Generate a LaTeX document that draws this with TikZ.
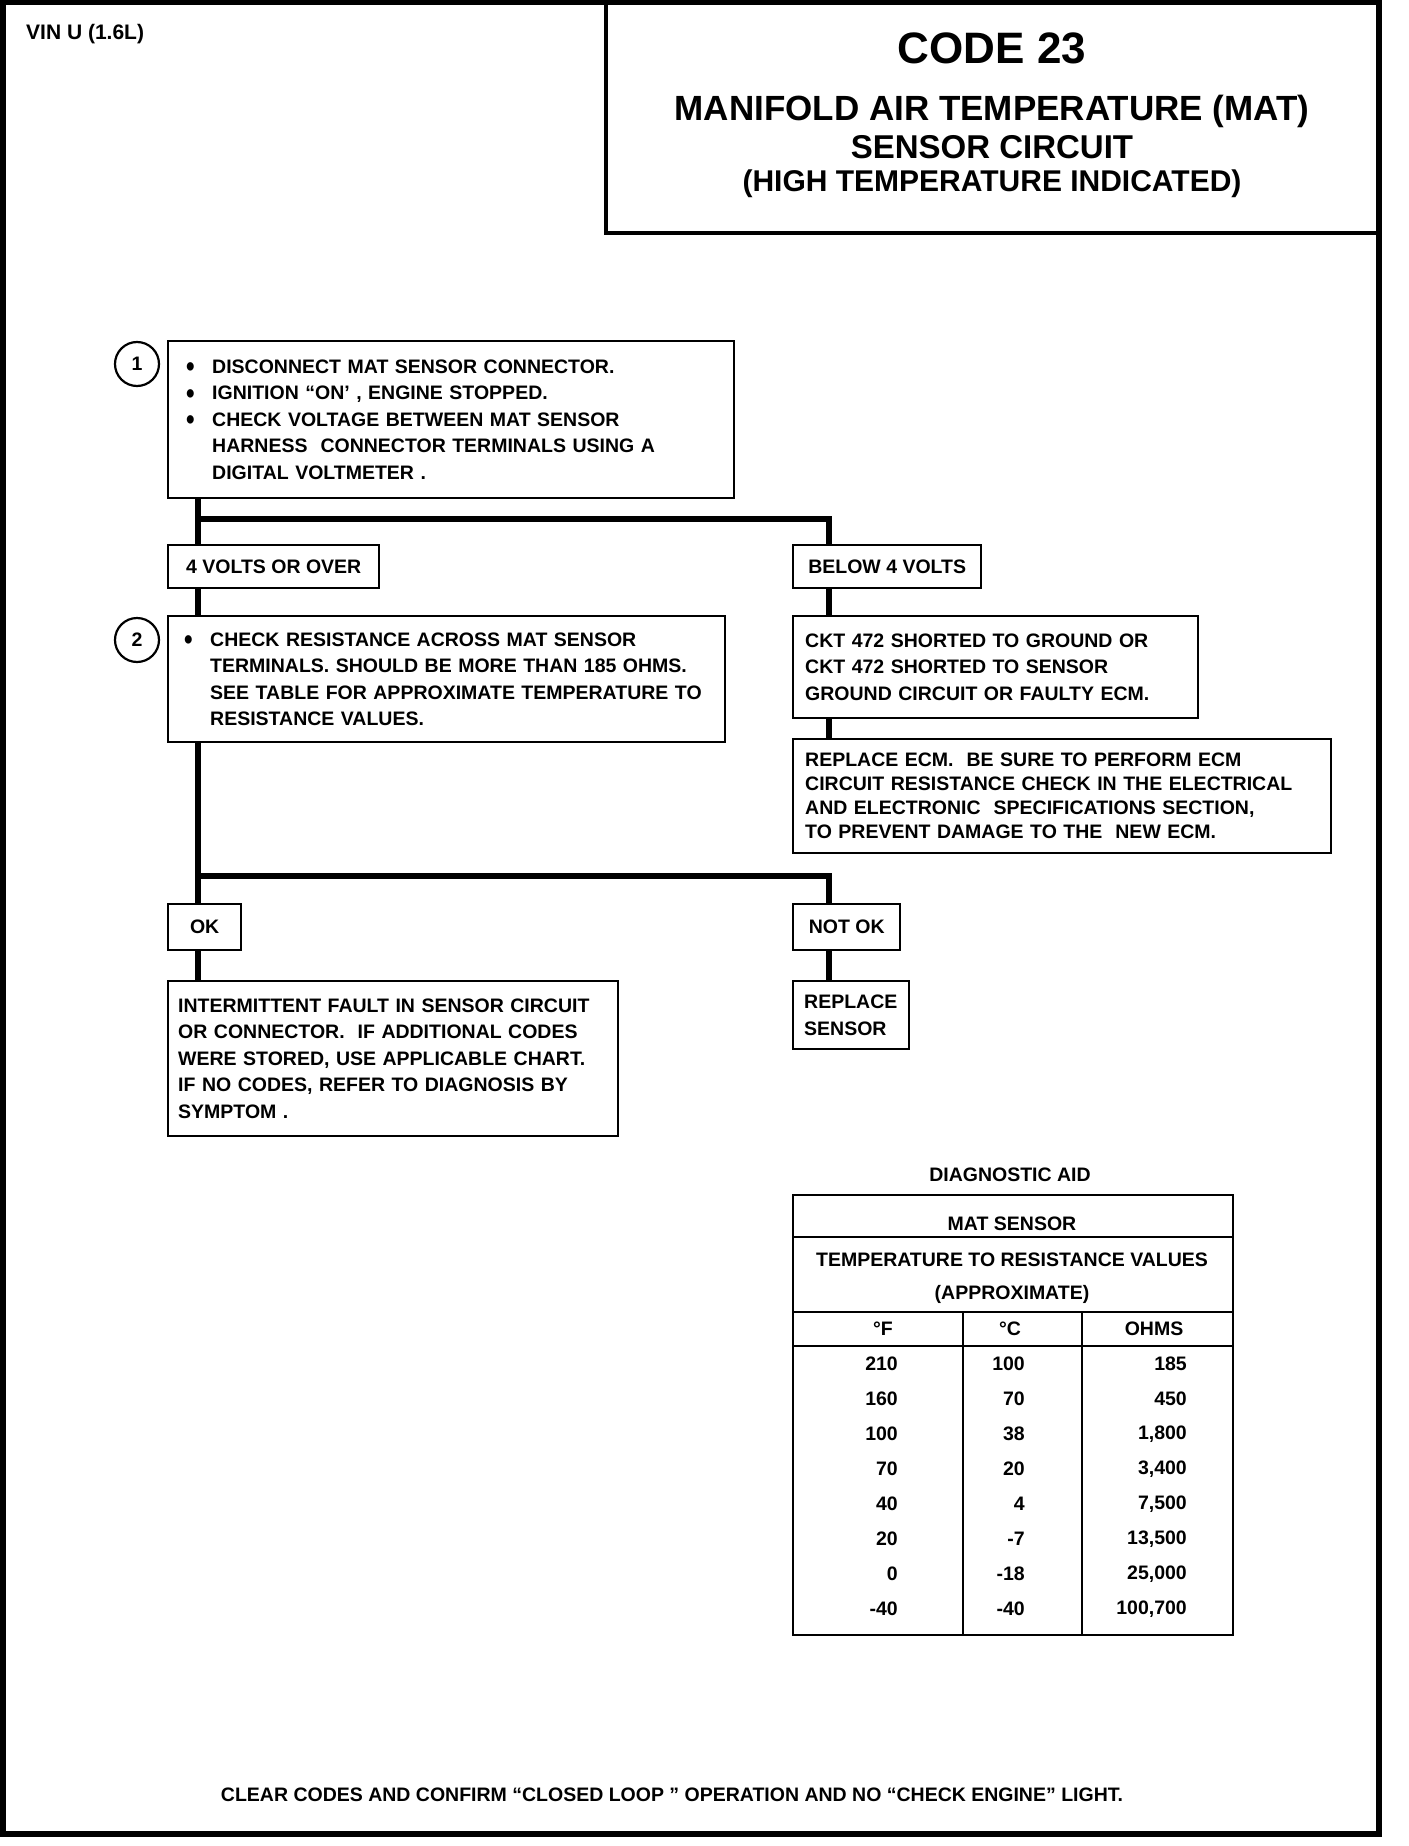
\documentclass[tikz,border=0pt]{standalone}
\usepackage{fontspec}
\setmainfont{Liberation Sans}
\usetikzlibrary{positioning}
\hyphenpenalty=10000
\newcommand\stepbullet{\makebox[26pt][l]{\raisebox{-3.5pt}{\scalebox{1.25}[1.5]{\textbullet}}}}
\newcommand\stepindent{\hspace*{26pt}}

\begin{document}
\begin{tikzpicture}[x=1pt,y=-1pt,
  txt/.style={font=\bfseries\fontsize{19.5}{26.5}\selectfont},
  stepbox/.style={txt,draw,line width=2.4pt,anchor=north west,align=left,inner ysep=0pt},
  tagbox/.style={txt,draw,line width=2.4pt,anchor=north west,inner sep=0pt},
  numcirc/.style={txt,draw,circle,line width=2.2pt,minimum size=44pt,inner sep=0pt},
  num/.style={txt,anchor=east,inner xsep=0pt},
  link/.style={line width=5.5pt,line join=miter}]
\useasboundingbox (0,0) rectangle (1408,1846);
\draw[line width=5.5pt] (2.75,2.75) rectangle (1379,1834);
\draw[line width=4pt] (606,0) -- (606,233) -- (1379,233);

\node[txt,anchor=west,inner xsep=0pt,font=\bfseries\fontsize{21}{26}\selectfont] (vin) at (26,34) {VIN U (1.6L)};
\node[font=\bfseries\fontsize{44}{50}\selectfont] (code) at (992,48) {CODE 23};
\node[font=\bfseries\fontsize{35}{40}\selectfont] (mani) at (992,111) {MANIFOLD AIR TEMPERATURE (MAT)};
\node[font=\bfseries\fontsize{33}{40}\selectfont] (sensckt) at (992,147) {SENSOR CIRCUIT};
\node[font=\bfseries\fontsize{30}{36}\selectfont] (hitemp) at (992,184) {(HIGH TEMPERATURE INDICATED)};

\node[numcirc] (c1) at (137,364) {1};
\node[stepbox,inner xsep=18pt,text width=530pt,minimum height=157pt] (b1) at (167,340)
  {\stepbullet DISCONNECT MAT SENSOR CONNECTOR.\\
   \stepbullet IGNITION “ON’ , ENGINE STOPPED.\\
   \stepbullet CHECK VOLTAGE BETWEEN MAT SENSOR\\
   \stepindent HARNESS\ \ CONNECTOR TERMINALS USING A\\
   \stepindent DIGITAL VOLTMETER .};
\node[tagbox,minimum width=211pt,minimum height=43pt] (volts) at (167,544) {4 VOLTS OR OVER};
\node[tagbox,minimum width=188pt,minimum height=43pt] (below) at (792,544) {BELOW 4 VOLTS};

\node[numcirc] (c2) at (137,640) {2};
\node[stepbox,inner xsep=16pt,text width=525pt,minimum height=126pt] (b2) at (167,615)
  {\stepbullet CHECK RESISTANCE ACROSS MAT SENSOR\\
   \stepindent TERMINALS. SHOULD BE MORE THAN 185 OHMS.\\
   \stepindent SEE TABLE FOR APPROXIMATE TEMPERATURE TO\\
   \stepindent RESISTANCE VALUES.};
\node[stepbox,inner xsep=12pt,text width=381pt,minimum height=102pt] (ckt) at (792,615)
  {CKT 472 SHORTED TO GROUND OR\\
   CKT 472 SHORTED TO SENSOR\\
   GROUND CIRCUIT OR FAULTY ECM.};
\node[stepbox,inner xsep=12pt,text width=514pt,minimum height=114pt,
  font=\bfseries\fontsize{19.5}{24}\selectfont] (ecm) at (792,738)
  {REPLACE ECM.\ \ BE SURE TO PERFORM ECM\\
   CIRCUIT RESISTANCE CHECK IN THE ELECTRICAL\\
   AND ELECTRONIC\ \ SPECIFICATIONS SECTION,\\
   TO PREVENT DAMAGE TO THE\ \ NEW ECM.};

\node[tagbox,minimum width=73pt,minimum height=46pt] (ok) at (167,903) {OK};
\node[tagbox,minimum width=107pt,minimum height=46pt] (notok) at (792,903) {NOT OK};
\node[stepbox,inner xsep=10pt,text width=430pt,minimum height=155pt] (interm) at (167,980)
  {INTERMITTENT FAULT IN SENSOR CIRCUIT\\
   OR CONNECTOR.\ \ IF ADDITIONAL CODES\\
   WERE STORED, USE APPLICABLE CHART.\\
   IF NO CODES, REFER TO DIAGNOSIS BY\\
   SYMPTOM .};
\node[stepbox,inner xsep=11pt,text width=94pt,minimum height=68pt] (repl) at (792,980)
  {REPLACE\\SENSOR};

\coordinate (ja) at (198,519);
\coordinate (ka) at (829,519);
\coordinate (jb) at (198,876);
\coordinate (kb) at (829,876);
\draw[link] (b1.south -| ja) -- (volts.north -| ja);
\draw[link] (ja) -- (ka) -- (below.north -| ka);
\draw[link] (volts.south -| ja) -- (b2.north -| ja);
\draw[link] (below.south -| ka) -- (ckt.north -| ka);
\draw[link] (ckt.south -| ka) -- (ecm.north -| ka);
\draw[link] (b2.south -| jb) -- (ok.north -| jb);
\draw[link] (jb) -- (kb) -- (notok.north -| kb);
\draw[link] (ok.south -| jb) -- (interm.north -| jb);
\draw[link] (notok.south -| kb) -- (repl.north -| kb);

\node[txt] (aid) at (1010,1175) {DIAGNOSTIC AID};
\draw[line width=2.6pt] (793,1195) rectangle (1233,1635);
\draw[line width=2.6pt] (793,1237) -- (1233,1237) (793,1312) -- (1233,1312)
  (793,1346) -- (1233,1346) (963,1312) -- (963,1635) (1082,1312) -- (1082,1635);
\node[txt] (matsens) at (1012,1224) {MAT SENSOR};
\node[txt] (tempres) at (1012,1260) {TEMPERATURE TO RESISTANCE VALUES};
\node[txt] (approx) at (1012,1294) {(APPROXIMATE)};
\node[txt] (hf) at (883,1329) {°F};
\node[txt] (hc) at (1010,1329) {°C};
\node[txt] (hohm) at (1154,1329) {OHMS};
\foreach \f/\c/\r [count=\i from 0] in {210/100/185, 160/70/450, 100/38/1{,}800,
    70/20/3{,}400, 40/4/7{,}500, 20/-7/13{,}500, 0/-18/25{,}000, -40/-40/100{,}700}{
  \node[num] (f\i) at (898,1364+35*\i) {\f};
  \node[num] (c\i) at (1025,1364+35*\i) {\c};
  \node[num] (r\i) at (1187,1364+35*\i) {\r};
}

\node[txt] (foot) at (672,1795) {CLEAR CODES AND CONFIRM “CLOSED LOOP ” OPERATION AND NO “CHECK ENGINE” LIGHT.};
\end{tikzpicture}
\end{document}
